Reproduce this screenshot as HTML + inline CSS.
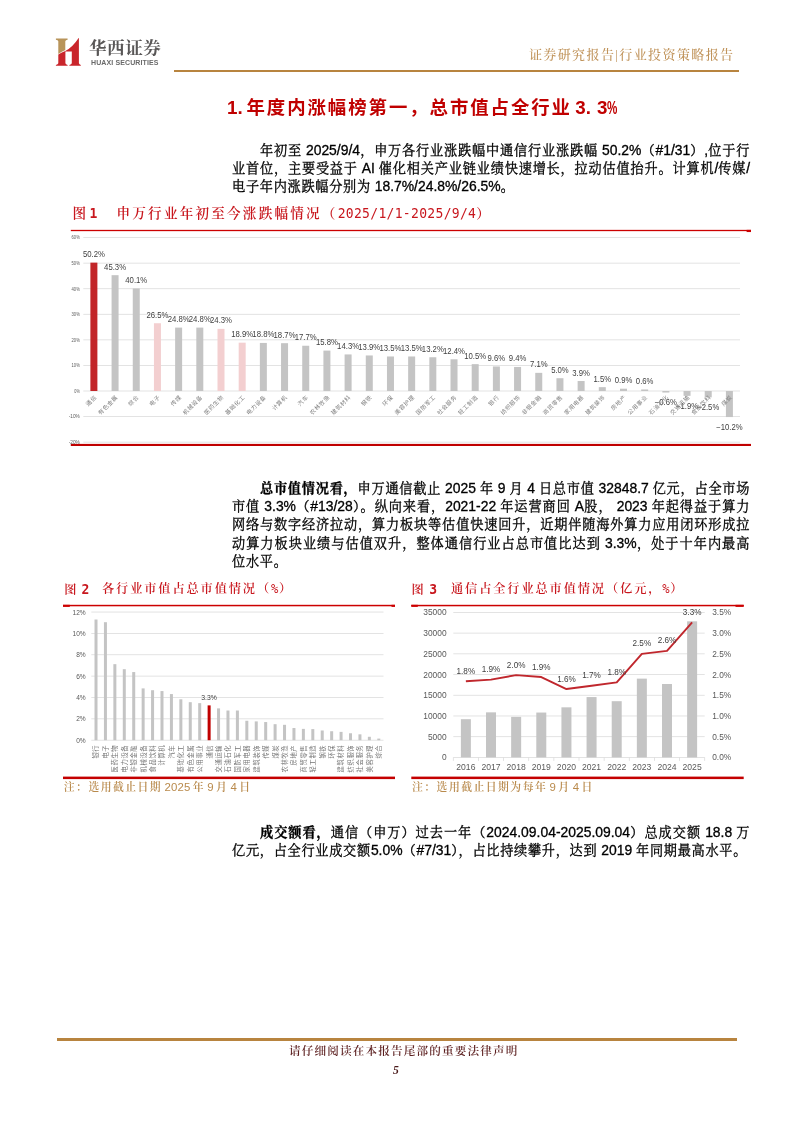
<!DOCTYPE html>
<html><head><meta charset="utf-8"><title>华西证券 行业投资策略报告</title>
<style>
html,body{margin:0;padding:0;background:#fff;}
body{width:794px;height:1123px;position:relative;overflow:hidden;}
.a{position:absolute;}
.nw{white-space:nowrap;}
.brand{font-family:"Liberation Serif","Noto Serif CJK SC",serif;font-weight:700;font-size:17.6px;color:#595757;letter-spacing:0.5px;line-height:1;}
.brand2{font-family:"Liberation Sans",sans-serif;font-weight:700;font-size:7.0px;color:#6a6a6a;letter-spacing:0.12px;line-height:1;}
.hdr{font-family:"Liberation Serif","Noto Serif CJK SC",serif;font-weight:500;font-size:13.0px;color:#C0935A;line-height:1;letter-spacing:1.4px;}
.h1{font-family:"Liberation Sans","Noto Sans CJK SC",sans-serif;font-weight:700;font-size:18.4px;color:#C00000;letter-spacing:1.95px;line-height:1;}
.h1n{font-family:"Liberation Sans",sans-serif;font-weight:700;font-size:18.8px;color:#C00000;line-height:1;}
.p{font-family:"Liberation Sans","Noto Serif CJK SC",serif;font-size:13.9px;color:#000;line-height:18.2px;}
.p b{font-weight:700;}
.p .c{font-size:13.2px;letter-spacing:0.7px;-webkit-text-stroke:0.3px #000;}
.ln{-webkit-text-stroke:0.3px #000;}
.ln{position:absolute;left:232px;width:518.2px;text-align:justify;text-align-last:justify;white-space:nowrap;}
.ln.i{left:260px;width:490.2px;}
.ln.l{text-align-last:left;width:auto;}
.cap{font-family:"Liberation Serif","Noto Serif CJK SC",serif;color:#C8161D;line-height:1;}
.cap1{font-size:13.6px;letter-spacing:2.2px;font-weight:600;}
.cap2{font-size:12.2px;letter-spacing:1.9px;font-weight:600;}
.cap .d{font-family:"DejaVu Sans Mono",monospace;font-size:13.05px;letter-spacing:0.3px;font-weight:400;display:inline-block;transform:scaleY(1.1);transform-origin:0 80%;}
.cap .m{font-family:"DejaVu Sans Mono",monospace;letter-spacing:0.5px;font-weight:400;}
.note{font-family:"Liberation Serif","Noto Serif CJK SC",serif;font-weight:600;font-size:10.8px;color:#B98A4C;line-height:1;letter-spacing:1.5px;word-spacing:-2px;}
.note span{font-family:"Liberation Sans",sans-serif;font-weight:400;font-size:11.4px;letter-spacing:0.2px;}
.foot{font-family:"Liberation Serif","Noto Serif CJK SC",serif;font-weight:600;font-size:11.6px;color:#5B1E1E;line-height:1;letter-spacing:1.15px;}
.pn{font-family:"Liberation Serif",serif;font-style:italic;font-weight:700;font-size:11.6px;color:#4A1A1A;line-height:1;}
svg text{fill:#595959;}
.t1y{font-family:"Liberation Sans",sans-serif;font-size:5.3px;}
.t1d{font-family:"Liberation Sans",sans-serif;font-size:8.5px;fill:#404040;}
.t1c{font-family:"Liberation Sans","Noto Sans CJK SC",sans-serif;font-size:5.7px;fill:#808080;letter-spacing:0.6px;}
.t2y{font-family:"Liberation Sans",sans-serif;font-size:6.6px;}
.t2c{font-family:"Liberation Sans","Noto Sans CJK SC",sans-serif;font-size:6.3px;fill:#767676;letter-spacing:0.6px;}
.t2d{font-family:"Liberation Sans",sans-serif;font-size:6.6px;fill:#404040;}
.t3y{font-family:"Liberation Sans",sans-serif;font-size:8.4px;}
.t3r{font-family:"Liberation Sans",sans-serif;font-size:8.4px;}
.t3x{font-family:"Liberation Sans",sans-serif;font-size:8.6px;}
.t3d{font-family:"Liberation Sans",sans-serif;font-size:8.4px;fill:#404040;}
</style></head><body>
<svg class="a" style="left:50px;top:35px" width="40" height="35" viewBox="0 0 800 700">
<path fill="#B8945A" d="M118,72 L352,72 L352,96 Q312,100 306,124 L306,300 Q240,330 166,378 L166,124 Q160,100 118,96 Z"/>
<path fill="#C9252B" d="M166,392 Q240,345 306,318 L306,318 Q450,250 572,60 L578,60 L578,566 Q584,592 616,598 L616,614 L388,614 L388,598 Q430,592 436,566 L436,330 L308,330 L308,566 Q314,592 352,598 L352,614 L118,614 L118,598 Q160,592 166,566 Z"/>
</svg>
<div class="a brand nw" style="left:89px;top:40px">华西证券</div>
<div class="a brand2 nw" style="left:91px;top:58.5px">HUAXI SECURITIES</div>
<div class="a hdr nw" style="right:59.5px;top:48px">证券研究报告|行业投资策略报告</div>
<div class="a" style="left:174px;top:70px;width:565px;height:2px;background:#B8843F"></div>

<div class="a h1n nw" style="left:227px;top:98.9px">1.</div>
<div class="a h1 nw" style="left:246.5px;top:99.2px">年度内涨幅榜第一，总市值占全行业</div>
<div class="a h1n nw" style="left:575.3px;top:98.9px">3<span style="letter-spacing:5.9px">.</span>3<span style="display:inline-block;transform:scaleX(0.62);transform-origin:0 0">%</span></div>

<div class="p">
<div class="ln i" style="top:140.7px"><span class="c">年初至</span> 2025/9/4<span class="c">，申万各行业涨跌幅中通信行业涨跌幅</span> 50.2%<span class="c">（</span>#1/31<span class="c">）</span>,<span class="c">位于行</span></div>
<div class="ln" style="top:158.9px"><span class="c">业首位，主要受益于</span> AI <span class="c">催化相关产业链业绩快速增长，拉动估值抬升。计算机</span>/<span class="c">传媒</span>/</div>
<div class="ln l" style="top:177.1px"><span class="c">电子年内涨跌幅分别为</span> 18.7%/24.8%/26.5%<span class="c">。</span></div>
</div>

<div class="a cap cap1 nw" style="left:72.5px;top:206.9px;letter-spacing:0">图 <span class="d" style="font-weight:700">1</span></div>
<div class="a cap cap1 nw" style="left:116.5px;top:206.9px">申万行业年初至今涨跌幅情况（<span class="d">2025/1/1-2025/9/4</span>）</div>

<div class="p">
<div class="ln i" style="top:479px"><b><span class="c">总市值情况看，</span></b><span class="c">申万通信截止</span> 2025 <span class="c">年</span> 9 <span class="c">月</span> 4 <span class="c">日总市值</span> 32848.7 <span class="c">亿元，占全市场</span></div>
<div class="ln" style="top:497.2px"><span class="c">市值</span> 3.3%<span class="c">（</span>#13/28<span class="c">）。纵向来看，</span>2021-22 <span class="c">年运营商回</span> A<span class="c">股，</span> 2023 <span class="c">年起得益于算力</span></div>
<div class="ln" style="top:515.4px"><span class="c">网络与数字经济拉动，算力板块等估值快速回升，近期伴随海外算力应用闭环形成拉</span></div>
<div class="ln" style="top:533.6px"><span class="c">动算力板块业绩与估值双升，整体通信行业占总市值比达到</span> 3.3%<span class="c">，处于十年内最高</span></div>
<div class="ln l" style="top:551.8px"><span class="c">位水平。</span></div>
</div>

<div class="a cap cap2 nw" style="left:64.3px;top:583px;letter-spacing:0">图 <span class="d" style="font-weight:700;margin-left:2px">2</span></div>
<div class="a cap cap2 nw" style="left:102px;top:583px">各行业市值占总市值情况（<span class="m">%</span>）</div>
<div class="a cap cap2 nw" style="left:411.5px;top:583px;letter-spacing:0">图 <span class="d" style="font-weight:700;margin-left:2.5px">3</span></div>
<div class="a cap cap2 nw" style="left:451px;top:583px">通信占全行业总市值情况（亿元，<span class="m">%</span>）</div>

<div class="a note nw" style="left:63.8px;top:781.5px">注：选用截止日期 <span>2025</span> 年 <span>9</span> 月 <span>4</span> 日</div>
<div class="a note nw" style="left:412px;top:781.5px">注：选用截止日期为每年 <span>9</span> 月 <span>4</span> 日</div>

<div class="p">
<div class="ln i" style="top:823px"><b><span class="c">成交额看，</span></b><span class="c">通信（申万）过去一年（</span>2024.09.04-2025.09.04<span class="c">）总成交额</span> 18.8 <span class="c">万</span></div>
<div class="ln l" style="top:841.2px"><span class="c">亿元，占全行业成交额</span>5.0%<span class="c">（</span>#7/31<span class="c">），占比持续攀升，达到</span> 2019 <span class="c">年同期最高水平。</span></div>
</div>

<div class="a" style="left:56.6px;top:1038px;width:680.4px;height:2.5px;background:#B8843F"></div>
<div class="a foot nw" style="left:289px;top:1046.2px">请仔细阅读在本报告尾部的重要法律声明</div>
<div class="a pn nw" style="left:393px;top:1065px">5</div>

<svg class="a" style="left:0;top:0" width="794" height="1123" viewBox="0 0 794 1123">
<rect x="70.8" y="229.85" width="680.2" height="1.3" fill="#CC0000"/>
<rect x="70.8" y="443.9" width="680.2" height="2.1" fill="#C00000"/>
<rect x="746.6" y="229.85" width="4.4" height="2.2" fill="#CC0000"/>
<rect x="83.3" y="237.18" width="656.7" height="0.8" fill="#DCDCDC"/>
<text x="79.8" y="239.48" class="t1y" text-anchor="end" textLength="8.25" lengthAdjust="spacingAndGlyphs">60%</text>
<rect x="83.3" y="262.75" width="656.7" height="0.8" fill="#DCDCDC"/>
<text x="79.8" y="265.05" class="t1y" text-anchor="end" textLength="8.25" lengthAdjust="spacingAndGlyphs">50%</text>
<rect x="83.3" y="288.32" width="656.7" height="0.8" fill="#DCDCDC"/>
<text x="79.8" y="290.62" class="t1y" text-anchor="end" textLength="8.25" lengthAdjust="spacingAndGlyphs">40%</text>
<rect x="83.3" y="313.89" width="656.7" height="0.8" fill="#DCDCDC"/>
<text x="79.8" y="316.19" class="t1y" text-anchor="end" textLength="8.25" lengthAdjust="spacingAndGlyphs">30%</text>
<rect x="83.3" y="339.46" width="656.7" height="0.8" fill="#DCDCDC"/>
<text x="79.8" y="341.76" class="t1y" text-anchor="end" textLength="8.25" lengthAdjust="spacingAndGlyphs">20%</text>
<rect x="83.3" y="365.03" width="656.7" height="0.8" fill="#DCDCDC"/>
<text x="79.8" y="367.33" class="t1y" text-anchor="end" textLength="8.25" lengthAdjust="spacingAndGlyphs">10%</text>
<rect x="83.3" y="390.6" width="656.7" height="0.8" fill="#DCDCDC"/>
<text x="79.8" y="392.9" class="t1y" text-anchor="end" textLength="5.5" lengthAdjust="spacingAndGlyphs">0%</text>
<rect x="83.3" y="416.17" width="656.7" height="0.8" fill="#DCDCDC"/>
<text x="79.8" y="418.47" class="t1y" text-anchor="end" textLength="11" lengthAdjust="spacingAndGlyphs">-10%</text>
<rect x="83.3" y="441.74" width="656.7" height="0.8" fill="#DCDCDC"/>
<text x="79.8" y="444.04" class="t1y" text-anchor="end" textLength="11" lengthAdjust="spacingAndGlyphs">-20%</text>
<rect x="90.39" y="262.64" width="7" height="128.36" fill="#C22528"/>
<text x="93.89" y="257.14" class="t1d" text-anchor="middle" textLength="22" lengthAdjust="spacingAndGlyphs">50.2%</text>
<text transform="translate(97.09,397.5) rotate(-45)" class="t1c" text-anchor="end">通信</text>
<rect x="111.58" y="275.17" width="7" height="115.83" fill="#C4C4C4"/>
<text x="115.08" y="269.67" class="t1d" text-anchor="middle" textLength="22" lengthAdjust="spacingAndGlyphs">45.3%</text>
<text transform="translate(118.28,397.5) rotate(-45)" class="t1c" text-anchor="end">有色金属</text>
<rect x="132.76" y="288.46" width="7" height="102.54" fill="#C4C4C4"/>
<text x="136.26" y="282.96" class="t1d" text-anchor="middle" textLength="22" lengthAdjust="spacingAndGlyphs">40.1%</text>
<text transform="translate(139.46,397.5) rotate(-45)" class="t1c" text-anchor="end">综合</text>
<rect x="153.94" y="323.24" width="7" height="67.76" fill="#F3CFD0"/>
<text x="157.44" y="317.74" class="t1d" text-anchor="middle" textLength="22" lengthAdjust="spacingAndGlyphs">26.5%</text>
<text transform="translate(160.64,397.5) rotate(-45)" class="t1c" text-anchor="end">电子</text>
<rect x="175.13" y="327.59" width="7" height="63.41" fill="#C4C4C4"/>
<text x="178.63" y="322.09" class="t1d" text-anchor="middle" textLength="22" lengthAdjust="spacingAndGlyphs">24.8%</text>
<text transform="translate(181.83,397.5) rotate(-45)" class="t1c" text-anchor="end">传媒</text>
<rect x="196.31" y="327.59" width="7" height="63.41" fill="#C4C4C4"/>
<text x="199.81" y="322.09" class="t1d" text-anchor="middle" textLength="22" lengthAdjust="spacingAndGlyphs">24.8%</text>
<text transform="translate(203.01,397.5) rotate(-45)" class="t1c" text-anchor="end">机械设备</text>
<rect x="217.5" y="328.86" width="7" height="62.14" fill="#F3CFD0"/>
<text x="221" y="323.36" class="t1d" text-anchor="middle" textLength="22" lengthAdjust="spacingAndGlyphs">24.3%</text>
<text transform="translate(224.2,397.5) rotate(-45)" class="t1c" text-anchor="end">医药生物</text>
<rect x="238.68" y="342.67" width="7" height="48.33" fill="#F3CFD0"/>
<text x="242.18" y="337.17" class="t1d" text-anchor="middle" textLength="22" lengthAdjust="spacingAndGlyphs">18.9%</text>
<text transform="translate(245.38,397.5) rotate(-45)" class="t1c" text-anchor="end">基础化工</text>
<rect x="259.86" y="342.93" width="7" height="48.07" fill="#C4C4C4"/>
<text x="263.36" y="337.43" class="t1d" text-anchor="middle" textLength="22" lengthAdjust="spacingAndGlyphs">18.8%</text>
<text transform="translate(266.56,397.5) rotate(-45)" class="t1c" text-anchor="end">电力设备</text>
<rect x="281.05" y="343.18" width="7" height="47.82" fill="#C4C4C4"/>
<text x="284.55" y="337.68" class="t1d" text-anchor="middle" textLength="22" lengthAdjust="spacingAndGlyphs">18.7%</text>
<text transform="translate(287.75,397.5) rotate(-45)" class="t1c" text-anchor="end">计算机</text>
<rect x="302.23" y="345.74" width="7" height="45.26" fill="#C4C4C4"/>
<text x="305.73" y="340.24" class="t1d" text-anchor="middle" textLength="22" lengthAdjust="spacingAndGlyphs">17.7%</text>
<text transform="translate(308.93,397.5) rotate(-45)" class="t1c" text-anchor="end">汽车</text>
<rect x="323.41" y="350.6" width="7" height="40.4" fill="#C4C4C4"/>
<text x="326.91" y="345.1" class="t1d" text-anchor="middle" textLength="22" lengthAdjust="spacingAndGlyphs">15.8%</text>
<text transform="translate(330.11,397.5) rotate(-45)" class="t1c" text-anchor="end">农林牧渔</text>
<rect x="344.6" y="354.43" width="7" height="36.57" fill="#C4C4C4"/>
<text x="348.1" y="348.93" class="t1d" text-anchor="middle" textLength="22" lengthAdjust="spacingAndGlyphs">14.3%</text>
<text transform="translate(351.3,397.5) rotate(-45)" class="t1c" text-anchor="end">建筑材料</text>
<rect x="365.78" y="355.46" width="7" height="35.54" fill="#C4C4C4"/>
<text x="369.28" y="349.96" class="t1d" text-anchor="middle" textLength="22" lengthAdjust="spacingAndGlyphs">13.9%</text>
<text transform="translate(372.48,397.5) rotate(-45)" class="t1c" text-anchor="end">钢铁</text>
<rect x="386.97" y="356.48" width="7" height="34.52" fill="#C4C4C4"/>
<text x="390.47" y="350.98" class="t1d" text-anchor="middle" textLength="22" lengthAdjust="spacingAndGlyphs">13.5%</text>
<text transform="translate(393.67,397.5) rotate(-45)" class="t1c" text-anchor="end">环保</text>
<rect x="408.15" y="356.48" width="7" height="34.52" fill="#C4C4C4"/>
<text x="411.65" y="350.98" class="t1d" text-anchor="middle" textLength="22" lengthAdjust="spacingAndGlyphs">13.5%</text>
<text transform="translate(414.85,397.5) rotate(-45)" class="t1c" text-anchor="end">美容护理</text>
<rect x="429.33" y="357.25" width="7" height="33.75" fill="#C4C4C4"/>
<text x="432.83" y="351.75" class="t1d" text-anchor="middle" textLength="22" lengthAdjust="spacingAndGlyphs">13.2%</text>
<text transform="translate(436.03,397.5) rotate(-45)" class="t1c" text-anchor="end">国防军工</text>
<rect x="450.52" y="359.29" width="7" height="31.71" fill="#C4C4C4"/>
<text x="454.02" y="353.79" class="t1d" text-anchor="middle" textLength="22" lengthAdjust="spacingAndGlyphs">12.4%</text>
<text transform="translate(457.22,397.5) rotate(-45)" class="t1c" text-anchor="end">社会服务</text>
<rect x="471.7" y="364.15" width="7" height="26.85" fill="#C4C4C4"/>
<text x="475.2" y="358.65" class="t1d" text-anchor="middle" textLength="22" lengthAdjust="spacingAndGlyphs">10.5%</text>
<text transform="translate(478.4,397.5) rotate(-45)" class="t1c" text-anchor="end">轻工制造</text>
<rect x="492.89" y="366.45" width="7" height="24.55" fill="#C4C4C4"/>
<text x="496.39" y="360.95" class="t1d" text-anchor="middle" textLength="17.6" lengthAdjust="spacingAndGlyphs">9.6%</text>
<text transform="translate(499.59,397.5) rotate(-45)" class="t1c" text-anchor="end">银行</text>
<rect x="514.07" y="366.96" width="7" height="24.04" fill="#C4C4C4"/>
<text x="517.57" y="361.46" class="t1d" text-anchor="middle" textLength="17.6" lengthAdjust="spacingAndGlyphs">9.4%</text>
<text transform="translate(520.77,397.5) rotate(-45)" class="t1c" text-anchor="end">纺织服饰</text>
<rect x="535.25" y="372.85" width="7" height="18.15" fill="#C4C4C4"/>
<text x="538.75" y="367.35" class="t1d" text-anchor="middle" textLength="17.6" lengthAdjust="spacingAndGlyphs">7.1%</text>
<text transform="translate(541.95,397.5) rotate(-45)" class="t1c" text-anchor="end">非银金融</text>
<rect x="556.44" y="378.21" width="7" height="12.79" fill="#C4C4C4"/>
<text x="559.94" y="372.71" class="t1d" text-anchor="middle" textLength="17.6" lengthAdjust="spacingAndGlyphs">5.0%</text>
<text transform="translate(563.14,397.5) rotate(-45)" class="t1c" text-anchor="end">商贸零售</text>
<rect x="577.62" y="381.03" width="7" height="9.97" fill="#C4C4C4"/>
<text x="581.12" y="375.53" class="t1d" text-anchor="middle" textLength="17.6" lengthAdjust="spacingAndGlyphs">3.9%</text>
<text transform="translate(584.32,397.5) rotate(-45)" class="t1c" text-anchor="end">家用电器</text>
<rect x="598.8" y="387.16" width="7" height="3.84" fill="#C4C4C4"/>
<text x="602.3" y="381.66" class="t1d" text-anchor="middle" textLength="17.6" lengthAdjust="spacingAndGlyphs">1.5%</text>
<text transform="translate(605.5,397.5) rotate(-45)" class="t1c" text-anchor="end">建筑装饰</text>
<rect x="619.99" y="388.7" width="7" height="2.3" fill="#C4C4C4"/>
<text x="623.49" y="383.2" class="t1d" text-anchor="middle" textLength="17.6" lengthAdjust="spacingAndGlyphs">0.9%</text>
<text transform="translate(626.69,397.5) rotate(-45)" class="t1c" text-anchor="end">房地产</text>
<rect x="641.17" y="389.47" width="7" height="1.53" fill="#C4C4C4"/>
<text x="644.67" y="383.97" class="t1d" text-anchor="middle" textLength="17.6" lengthAdjust="spacingAndGlyphs">0.6%</text>
<text transform="translate(647.87,397.5) rotate(-45)" class="t1c" text-anchor="end">公用事业</text>
<rect x="662.36" y="391" width="7" height="1.53" fill="#C4C4C4"/>
<text x="665.86" y="405.43" class="t1d" text-anchor="middle" textLength="22" lengthAdjust="spacingAndGlyphs">−0.6%</text>
<text transform="translate(669.06,397.5) rotate(-45)" class="t1c" text-anchor="end">石油石化</text>
<rect x="683.54" y="391" width="7" height="4.86" fill="#C4C4C4"/>
<text x="687.04" y="408.76" class="t1d" text-anchor="middle" textLength="22" lengthAdjust="spacingAndGlyphs">−1.9%</text>
<text transform="translate(690.24,397.5) rotate(-45)" class="t1c" text-anchor="end">交通运输</text>
<rect x="704.72" y="391" width="7" height="6.39" fill="#C4C4C4"/>
<text x="708.22" y="410.29" class="t1d" text-anchor="middle" textLength="22" lengthAdjust="spacingAndGlyphs">−2.5%</text>
<text transform="translate(711.42,397.5) rotate(-45)" class="t1c" text-anchor="end">食品饮料</text>
<rect x="725.91" y="391" width="7" height="26.08" fill="#C4C4C4"/>
<text x="729.41" y="429.98" class="t1d" text-anchor="middle" textLength="26.4" lengthAdjust="spacingAndGlyphs">−10.2%</text>
<text transform="translate(732.61,397.5) rotate(-45)" class="t1c" text-anchor="end">煤炭</text>
<rect x="63" y="604.8" width="332" height="1.5" fill="#CC0000"/>
<rect x="63" y="604.8" width="6.8" height="2.1" fill="#CC0000"/>
<rect x="391.5" y="604.8" width="3.5" height="2.1" fill="#CC0000"/>
<rect x="63" y="776.6" width="332" height="2.5" fill="#C40000"/>
<rect x="91.3" y="739.8" width="292.2" height="0.8" fill="#DCDCDC"/>
<text x="85.7" y="742.8" class="t2y" text-anchor="end">0%</text>
<rect x="91.3" y="718.44" width="292.2" height="0.8" fill="#DCDCDC"/>
<text x="85.7" y="721.44" class="t2y" text-anchor="end">2%</text>
<rect x="91.3" y="697.08" width="292.2" height="0.8" fill="#DCDCDC"/>
<text x="85.7" y="700.08" class="t2y" text-anchor="end">4%</text>
<rect x="91.3" y="675.72" width="292.2" height="0.8" fill="#DCDCDC"/>
<text x="85.7" y="678.72" class="t2y" text-anchor="end">6%</text>
<rect x="91.3" y="654.36" width="292.2" height="0.8" fill="#DCDCDC"/>
<text x="85.7" y="657.36" class="t2y" text-anchor="end">8%</text>
<rect x="91.3" y="633" width="292.2" height="0.8" fill="#DCDCDC"/>
<text x="85.7" y="636" class="t2y" text-anchor="end">10%</text>
<rect x="91.3" y="611.64" width="292.2" height="0.8" fill="#DCDCDC"/>
<text x="85.7" y="614.64" class="t2y" text-anchor="end">12%</text>
<rect x="94.51" y="619.52" width="3" height="120.68" fill="#C4C4C4"/>
<text transform="translate(98.41,744.8) rotate(-90)" class="t2c" text-anchor="end">银行</text>
<rect x="103.94" y="622.19" width="3" height="118.01" fill="#C4C4C4"/>
<text transform="translate(107.84,744.8) rotate(-90)" class="t2c" text-anchor="end">电子</text>
<rect x="113.36" y="664.16" width="3" height="76.04" fill="#C4C4C4"/>
<text transform="translate(117.26,744.8) rotate(-90)" class="t2c" text-anchor="end">医药生物</text>
<rect x="122.79" y="669.18" width="3" height="71.02" fill="#C4C4C4"/>
<text transform="translate(126.69,744.8) rotate(-90)" class="t2c" text-anchor="end">电力设备</text>
<rect x="132.22" y="672.06" width="3" height="68.14" fill="#C4C4C4"/>
<text transform="translate(136.12,744.8) rotate(-90)" class="t2c" text-anchor="end">非银金融</text>
<rect x="141.64" y="688.4" width="3" height="51.8" fill="#C4C4C4"/>
<text transform="translate(145.54,744.8) rotate(-90)" class="t2c" text-anchor="end">机械设备</text>
<rect x="151.07" y="690.22" width="3" height="49.98" fill="#C4C4C4"/>
<text transform="translate(154.97,744.8) rotate(-90)" class="t2c" text-anchor="end">食品饮料</text>
<rect x="160.49" y="691.07" width="3" height="49.13" fill="#C4C4C4"/>
<text transform="translate(164.39,744.8) rotate(-90)" class="t2c" text-anchor="end">计算机</text>
<rect x="169.92" y="694.06" width="3" height="46.14" fill="#C4C4C4"/>
<text transform="translate(173.82,744.8) rotate(-90)" class="t2c" text-anchor="end">汽车</text>
<rect x="179.35" y="699.3" width="3" height="40.9" fill="#C4C4C4"/>
<text transform="translate(183.25,744.8) rotate(-90)" class="t2c" text-anchor="end">基础化工</text>
<rect x="188.77" y="702.18" width="3" height="38.02" fill="#C4C4C4"/>
<text transform="translate(192.67,744.8) rotate(-90)" class="t2c" text-anchor="end">有色金属</text>
<rect x="198.2" y="703.14" width="3" height="37.06" fill="#C4C4C4"/>
<text transform="translate(202.1,744.8) rotate(-90)" class="t2c" text-anchor="end">公用事业</text>
<rect x="207.62" y="705.38" width="3" height="34.82" fill="#C00000"/>
<text transform="translate(211.52,744.8) rotate(-90)" class="t2c" text-anchor="end">通信</text>
<text x="209.12" y="700.3" class="t2d" text-anchor="middle" textLength="15.6" lengthAdjust="spacingAndGlyphs">3.3%</text>
<rect x="217.05" y="708.37" width="3" height="31.83" fill="#C4C4C4"/>
<text transform="translate(220.95,744.8) rotate(-90)" class="t2c" text-anchor="end">交通运输</text>
<rect x="226.47" y="710.51" width="3" height="29.69" fill="#C4C4C4"/>
<text transform="translate(230.37,744.8) rotate(-90)" class="t2c" text-anchor="end">石油石化</text>
<rect x="235.9" y="710.51" width="3" height="29.69" fill="#C4C4C4"/>
<text transform="translate(239.8,744.8) rotate(-90)" class="t2c" text-anchor="end">国防军工</text>
<rect x="245.33" y="720.76" width="3" height="19.44" fill="#C4C4C4"/>
<text transform="translate(249.23,744.8) rotate(-90)" class="t2c" text-anchor="end">家用电器</text>
<rect x="254.75" y="721.4" width="3" height="18.8" fill="#C4C4C4"/>
<text transform="translate(258.65,744.8) rotate(-90)" class="t2c" text-anchor="end">建筑装饰</text>
<rect x="264.18" y="722.04" width="3" height="18.16" fill="#C4C4C4"/>
<text transform="translate(268.08,744.8) rotate(-90)" class="t2c" text-anchor="end">传媒</text>
<rect x="273.6" y="724.18" width="3" height="16.02" fill="#C4C4C4"/>
<text transform="translate(277.5,744.8) rotate(-90)" class="t2c" text-anchor="end">煤炭</text>
<rect x="283.03" y="724.82" width="3" height="15.38" fill="#C4C4C4"/>
<text transform="translate(286.93,744.8) rotate(-90)" class="t2c" text-anchor="end">农林牧渔</text>
<rect x="292.45" y="728.02" width="3" height="12.18" fill="#C4C4C4"/>
<text transform="translate(296.35,744.8) rotate(-90)" class="t2c" text-anchor="end">房地产</text>
<rect x="301.88" y="728.88" width="3" height="11.32" fill="#C4C4C4"/>
<text transform="translate(305.78,744.8) rotate(-90)" class="t2c" text-anchor="end">商贸零售</text>
<rect x="311.31" y="729.09" width="3" height="11.11" fill="#C4C4C4"/>
<text transform="translate(315.21,744.8) rotate(-90)" class="t2c" text-anchor="end">轻工制造</text>
<rect x="320.73" y="730.48" width="3" height="9.72" fill="#C4C4C4"/>
<text transform="translate(324.63,744.8) rotate(-90)" class="t2c" text-anchor="end">钢铁</text>
<rect x="330.16" y="731.23" width="3" height="8.97" fill="#C4C4C4"/>
<text transform="translate(334.06,744.8) rotate(-90)" class="t2c" text-anchor="end">环保</text>
<rect x="339.58" y="731.87" width="3" height="8.33" fill="#C4C4C4"/>
<text transform="translate(343.48,744.8) rotate(-90)" class="t2c" text-anchor="end">建筑材料</text>
<rect x="349.01" y="733.26" width="3" height="6.94" fill="#C4C4C4"/>
<text transform="translate(352.91,744.8) rotate(-90)" class="t2c" text-anchor="end">纺织服饰</text>
<rect x="358.44" y="734.33" width="3" height="5.87" fill="#C4C4C4"/>
<text transform="translate(362.34,744.8) rotate(-90)" class="t2c" text-anchor="end">社会服务</text>
<rect x="367.86" y="736.78" width="3" height="3.42" fill="#C4C4C4"/>
<text transform="translate(371.76,744.8) rotate(-90)" class="t2c" text-anchor="end">美容护理</text>
<rect x="377.29" y="738.6" width="3" height="1.6" fill="#C4C4C4"/>
<text transform="translate(381.19,744.8) rotate(-90)" class="t2c" text-anchor="end">综合</text>
<rect x="411.3" y="604.8" width="332.4" height="1.5" fill="#CC0000"/>
<rect x="411.3" y="604.8" width="6.5" height="2.1" fill="#CC0000"/>
<rect x="735.5" y="604.8" width="8.2" height="2.1" fill="#CC0000"/>
<rect x="411.3" y="776.6" width="332.4" height="2.5" fill="#C40000"/>
<text x="446.6" y="760.4" class="t3y" text-anchor="end">0</text>
<text x="712.2" y="760.4" class="t3r" textLength="19" lengthAdjust="spacingAndGlyphs">0.0%</text>
<rect x="453.3" y="736.29" width="251.4" height="0.8" fill="#DCDCDC"/>
<text x="446.6" y="739.69" class="t3y" text-anchor="end">5000</text>
<text x="712.2" y="739.69" class="t3r" textLength="19" lengthAdjust="spacingAndGlyphs">0.5%</text>
<rect x="453.3" y="715.57" width="251.4" height="0.8" fill="#DCDCDC"/>
<text x="446.6" y="718.97" class="t3y" text-anchor="end">10000</text>
<text x="712.2" y="718.97" class="t3r" textLength="19" lengthAdjust="spacingAndGlyphs">1.0%</text>
<rect x="453.3" y="694.86" width="251.4" height="0.8" fill="#DCDCDC"/>
<text x="446.6" y="698.26" class="t3y" text-anchor="end">15000</text>
<text x="712.2" y="698.26" class="t3r" textLength="19" lengthAdjust="spacingAndGlyphs">1.5%</text>
<rect x="453.3" y="674.14" width="251.4" height="0.8" fill="#DCDCDC"/>
<text x="446.6" y="677.54" class="t3y" text-anchor="end">20000</text>
<text x="712.2" y="677.54" class="t3r" textLength="19" lengthAdjust="spacingAndGlyphs">2.0%</text>
<rect x="453.3" y="653.43" width="251.4" height="0.8" fill="#DCDCDC"/>
<text x="446.6" y="656.83" class="t3y" text-anchor="end">25000</text>
<text x="712.2" y="656.83" class="t3r" textLength="19" lengthAdjust="spacingAndGlyphs">2.5%</text>
<rect x="453.3" y="632.71" width="251.4" height="0.8" fill="#DCDCDC"/>
<text x="446.6" y="636.11" class="t3y" text-anchor="end">30000</text>
<text x="712.2" y="636.11" class="t3r" textLength="19" lengthAdjust="spacingAndGlyphs">3.0%</text>
<rect x="453.3" y="612" width="251.4" height="0.8" fill="#DCDCDC"/>
<text x="446.6" y="615.4" class="t3y" text-anchor="end">35000</text>
<text x="712.2" y="615.4" class="t3r" textLength="19" lengthAdjust="spacingAndGlyphs">3.5%</text>
<rect x="453.3" y="757" width="251.4" height="0.8" fill="#DCDCDC"/>
<rect x="452.9" y="757.4" width="0.8" height="3.5" fill="#DCDCDC"/>
<rect x="478.04" y="757.4" width="0.8" height="3.5" fill="#DCDCDC"/>
<rect x="503.18" y="757.4" width="0.8" height="3.5" fill="#DCDCDC"/>
<rect x="528.32" y="757.4" width="0.8" height="3.5" fill="#DCDCDC"/>
<rect x="553.46" y="757.4" width="0.8" height="3.5" fill="#DCDCDC"/>
<rect x="578.6" y="757.4" width="0.8" height="3.5" fill="#DCDCDC"/>
<rect x="603.74" y="757.4" width="0.8" height="3.5" fill="#DCDCDC"/>
<rect x="628.88" y="757.4" width="0.8" height="3.5" fill="#DCDCDC"/>
<rect x="654.02" y="757.4" width="0.8" height="3.5" fill="#DCDCDC"/>
<rect x="679.16" y="757.4" width="0.8" height="3.5" fill="#DCDCDC"/>
<rect x="704.3" y="757.4" width="0.8" height="3.5" fill="#DCDCDC"/>
<rect x="460.87" y="719.19" width="10" height="38.21" fill="#C4C4C4"/>
<text x="465.87" y="770.2" class="t3x" text-anchor="middle">2016</text>
<rect x="486.01" y="712.35" width="10" height="45.05" fill="#C4C4C4"/>
<text x="491.01" y="770.2" class="t3x" text-anchor="middle">2017</text>
<rect x="511.15" y="716.87" width="10" height="40.53" fill="#C4C4C4"/>
<text x="516.15" y="770.2" class="t3x" text-anchor="middle">2018</text>
<rect x="536.29" y="712.55" width="10" height="44.85" fill="#C4C4C4"/>
<text x="541.29" y="770.2" class="t3x" text-anchor="middle">2019</text>
<rect x="561.43" y="707.33" width="10" height="50.07" fill="#C4C4C4"/>
<text x="566.43" y="770.2" class="t3x" text-anchor="middle">2020</text>
<rect x="586.57" y="697.07" width="10" height="60.33" fill="#C4C4C4"/>
<text x="591.57" y="770.2" class="t3x" text-anchor="middle">2021</text>
<rect x="611.71" y="701.19" width="10" height="56.21" fill="#C4C4C4"/>
<text x="616.71" y="770.2" class="t3x" text-anchor="middle">2022</text>
<rect x="636.85" y="678.63" width="10" height="78.77" fill="#C4C4C4"/>
<text x="641.85" y="770.2" class="t3x" text-anchor="middle">2023</text>
<rect x="661.99" y="684.01" width="10" height="73.39" fill="#C4C4C4"/>
<text x="666.99" y="770.2" class="t3x" text-anchor="middle">2024</text>
<rect x="687.13" y="621.31" width="10" height="136.09" fill="#C4C4C4"/>
<text x="692.13" y="770.2" class="t3x" text-anchor="middle">2025</text>
<polyline fill="none" stroke="#C0272D" stroke-width="1.9" stroke-linejoin="round" points="465.87,681.21 491.01,679.6 516.15,675.08 541.29,677.03 566.43,689.04 591.57,685.73 616.71,682.41 641.85,653.83 666.99,650.93 692.13,622.34"/>
<text x="465.87" y="673.71" class="t3d" text-anchor="middle" textLength="18.6" lengthAdjust="spacingAndGlyphs">1.8%</text>
<text x="491.01" y="672.1" class="t3d" text-anchor="middle" textLength="18.6" lengthAdjust="spacingAndGlyphs">1.9%</text>
<text x="516.15" y="667.58" class="t3d" text-anchor="middle" textLength="18.6" lengthAdjust="spacingAndGlyphs">2.0%</text>
<text x="541.29" y="669.53" class="t3d" text-anchor="middle" textLength="18.6" lengthAdjust="spacingAndGlyphs">1.9%</text>
<text x="566.43" y="681.54" class="t3d" text-anchor="middle" textLength="18.6" lengthAdjust="spacingAndGlyphs">1.6%</text>
<text x="591.57" y="678.23" class="t3d" text-anchor="middle" textLength="18.6" lengthAdjust="spacingAndGlyphs">1.7%</text>
<text x="616.71" y="674.91" class="t3d" text-anchor="middle" textLength="18.6" lengthAdjust="spacingAndGlyphs">1.8%</text>
<text x="641.85" y="646.33" class="t3d" text-anchor="middle" textLength="18.6" lengthAdjust="spacingAndGlyphs">2.5%</text>
<text x="666.99" y="643.43" class="t3d" text-anchor="middle" textLength="18.6" lengthAdjust="spacingAndGlyphs">2.6%</text>
<text x="692.13" y="614.84" class="t3d" text-anchor="middle" textLength="18.6" lengthAdjust="spacingAndGlyphs">3.3%</text>
</svg>
</body></html>
